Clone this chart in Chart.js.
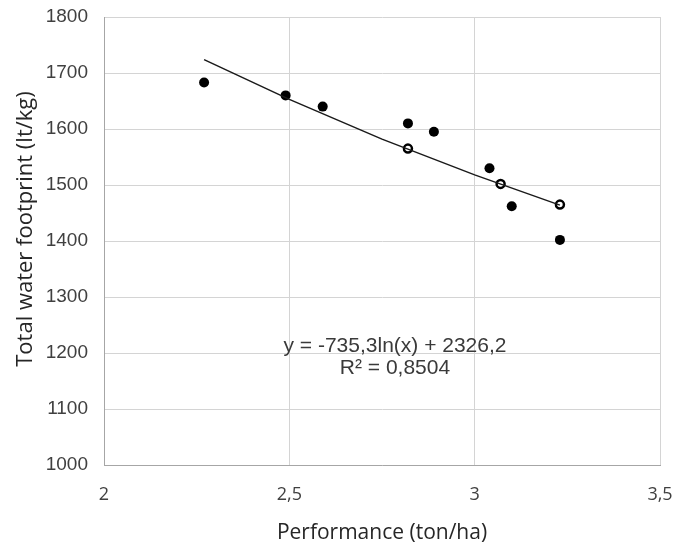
<!DOCTYPE html>
<html>
<head>
<meta charset="utf-8">
<script src="https://cdn.jsdelivr.net/npm/chart.js@4"></script>
<style>
  body { margin: 0; background: #fff; }
</style>
</head>
<body>
<canvas id="grafico" width="676" height="550"></canvas>
<script>
// dati
var performance = [2.27, 2.49, 2.59, 2.82, 2.82, 2.89, 3.04, 3.07, 3.10, 3.23, 3.23];
var waterFootprint = [1683, 1660, 1640, 1610, 1565, 1595, 1530, 1502, 1462, 1465, 1402];

// linea di tendenza (logaritmica)
var trendX = [2.27, 2.5, 2.75, 3.0, 3.23];
var trendY = [1724, 1653, 1582, 1518, 1464];

var xTicks = [2, 2.5, 3, 3.5];
var xTickLabels = ['2', '2,5', '3', '3,5'];
var equationText = ['y = -735,3ln(x) + 2326,2', 'R\u00b2 = 0,8504'];
var yTitle = 'Total water footprint (lt/kg)';

// punti attraversati dalla linea (appaiono vuoti nel grafico)
var onLine = [4, 7, 9];

var punti = performance.map((x, i) => ({ x: x, y: waterFootprint[i] }));
var trend = trendX.map((x, i) => ({ x: x, y: trendY[i] }));

var equazionePlugin = {
    id: 'equazione',
    afterDatasetsDraw: function (chart) {
        var ctx = chart.ctx;
        var xs = chart.scales.x, ys = chart.scales.y;
        var area = chart.chartArea;
        ctx.save();
        ctx.fillStyle = '#3a3a3a';
        ctx.font = '21px "Liberation Sans", Arial, sans-serif';
        ctx.textAlign = 'center';
        ctx.textBaseline = 'middle';
        ctx.fillText(equationText[0], xs.getPixelForValue(2.785), ys.getPixelForValue(1213));
        ctx.fillText(equationText[1], xs.getPixelForValue(2.785), ys.getPixelForValue(1173));

        // titolo asse y (un po' sopra il centro, come nell'originale)
        ctx.translate(area.left - 78, (area.top + area.bottom) / 2 - 12);
        ctx.rotate(-Math.PI / 2);
        ctx.fillStyle = '#262626';
        ctx.font = '22px "Open Sans", sans-serif';
        ctx.fillText(yTitle, 0, 0);
        ctx.restore();
    }
};

// azzera il padding automatico delle etichette, così l'area del grafico resta fissa
function azzeraPadding(scale) {
    scale.paddingTop = 0;
    scale.paddingBottom = 0;
    scale.paddingLeft = 0;
    scale.paddingRight = 0;
}

var ctx = document.getElementById('grafico').getContext('2d');
var grafico = new Chart(ctx, {
    type: 'scatter',
    data: {
        datasets: [{
            label: 'Tendenza',
            data: trend,
            showLine: true,
            borderColor: '#1a1a1a',
            borderWidth: 1.5,
            pointRadius: 0,
            fill: false,
            order: 0
        }, {
            label: 'Dati',
            data: punti,
            pointRadius: performance.map((x, i) => onLine.includes(i) ? 4 : 5),
            pointBorderWidth: performance.map((x, i) => onLine.includes(i) ? 2.5 : 0),
            pointBackgroundColor: performance.map((x, i) => onLine.includes(i) ? '#fff' : '#000'),
            pointBorderColor: '#000',
            order: 1
        }]
    },
    options: {
        responsive: false,
        animation: false,
        layout: { padding: { top: 17, right: 16, left: 0, bottom: 0 } },
        plugins: {
            legend: { display: false },
            tooltip: { enabled: false }
        },
        scales: {
            x: {
                type: 'linear',
                min: 2,
                max: 3.5,
                afterBuildTicks: function (scale) {
                    scale.ticks = xTicks.map(v => ({ value: v }));
                },
                afterFit: function (scale) { scale.height = 85; azzeraPadding(scale); },
                grid: { color: '#d4d4d4', drawTicks: false, lineWidth: 1 },
                border: { color: '#a6a6a6', width: 1 },
                ticks: {
                    padding: 19,
                    color: '#404040',
                    font: { family: '"Open Sans", sans-serif', size: 18 },
                    callback: function (value) {
                        var idx = xTicks.indexOf(value);
                        return idx >= 0 ? xTickLabels[idx] : '';
                    }
                },
                title: {
                    display: true,
                    text: 'Performance (ton/ha)',
                    color: '#262626',
                    font: { family: '"Open Sans", sans-serif', size: 21 },
                    padding: { top: 15 }
                }
            },
            y: {
                min: 1000,
                max: 1800,
                afterFit: function (scale) { scale.width = 104; azzeraPadding(scale); },
                grid: { color: '#d4d4d4', drawTicks: false, lineWidth: 1 },
                border: { color: '#a6a6a6', width: 1 },
                ticks: {
                    stepSize: 100,
                    padding: 16,
                    color: '#404040',
                    font: { family: '"Liberation Sans", Arial, sans-serif', size: 19 },
                    callback: function (value) { return String(value); }
                }
            }
        }
    },
    plugins: [equazionePlugin]
});
</script>
</body>
</html>
